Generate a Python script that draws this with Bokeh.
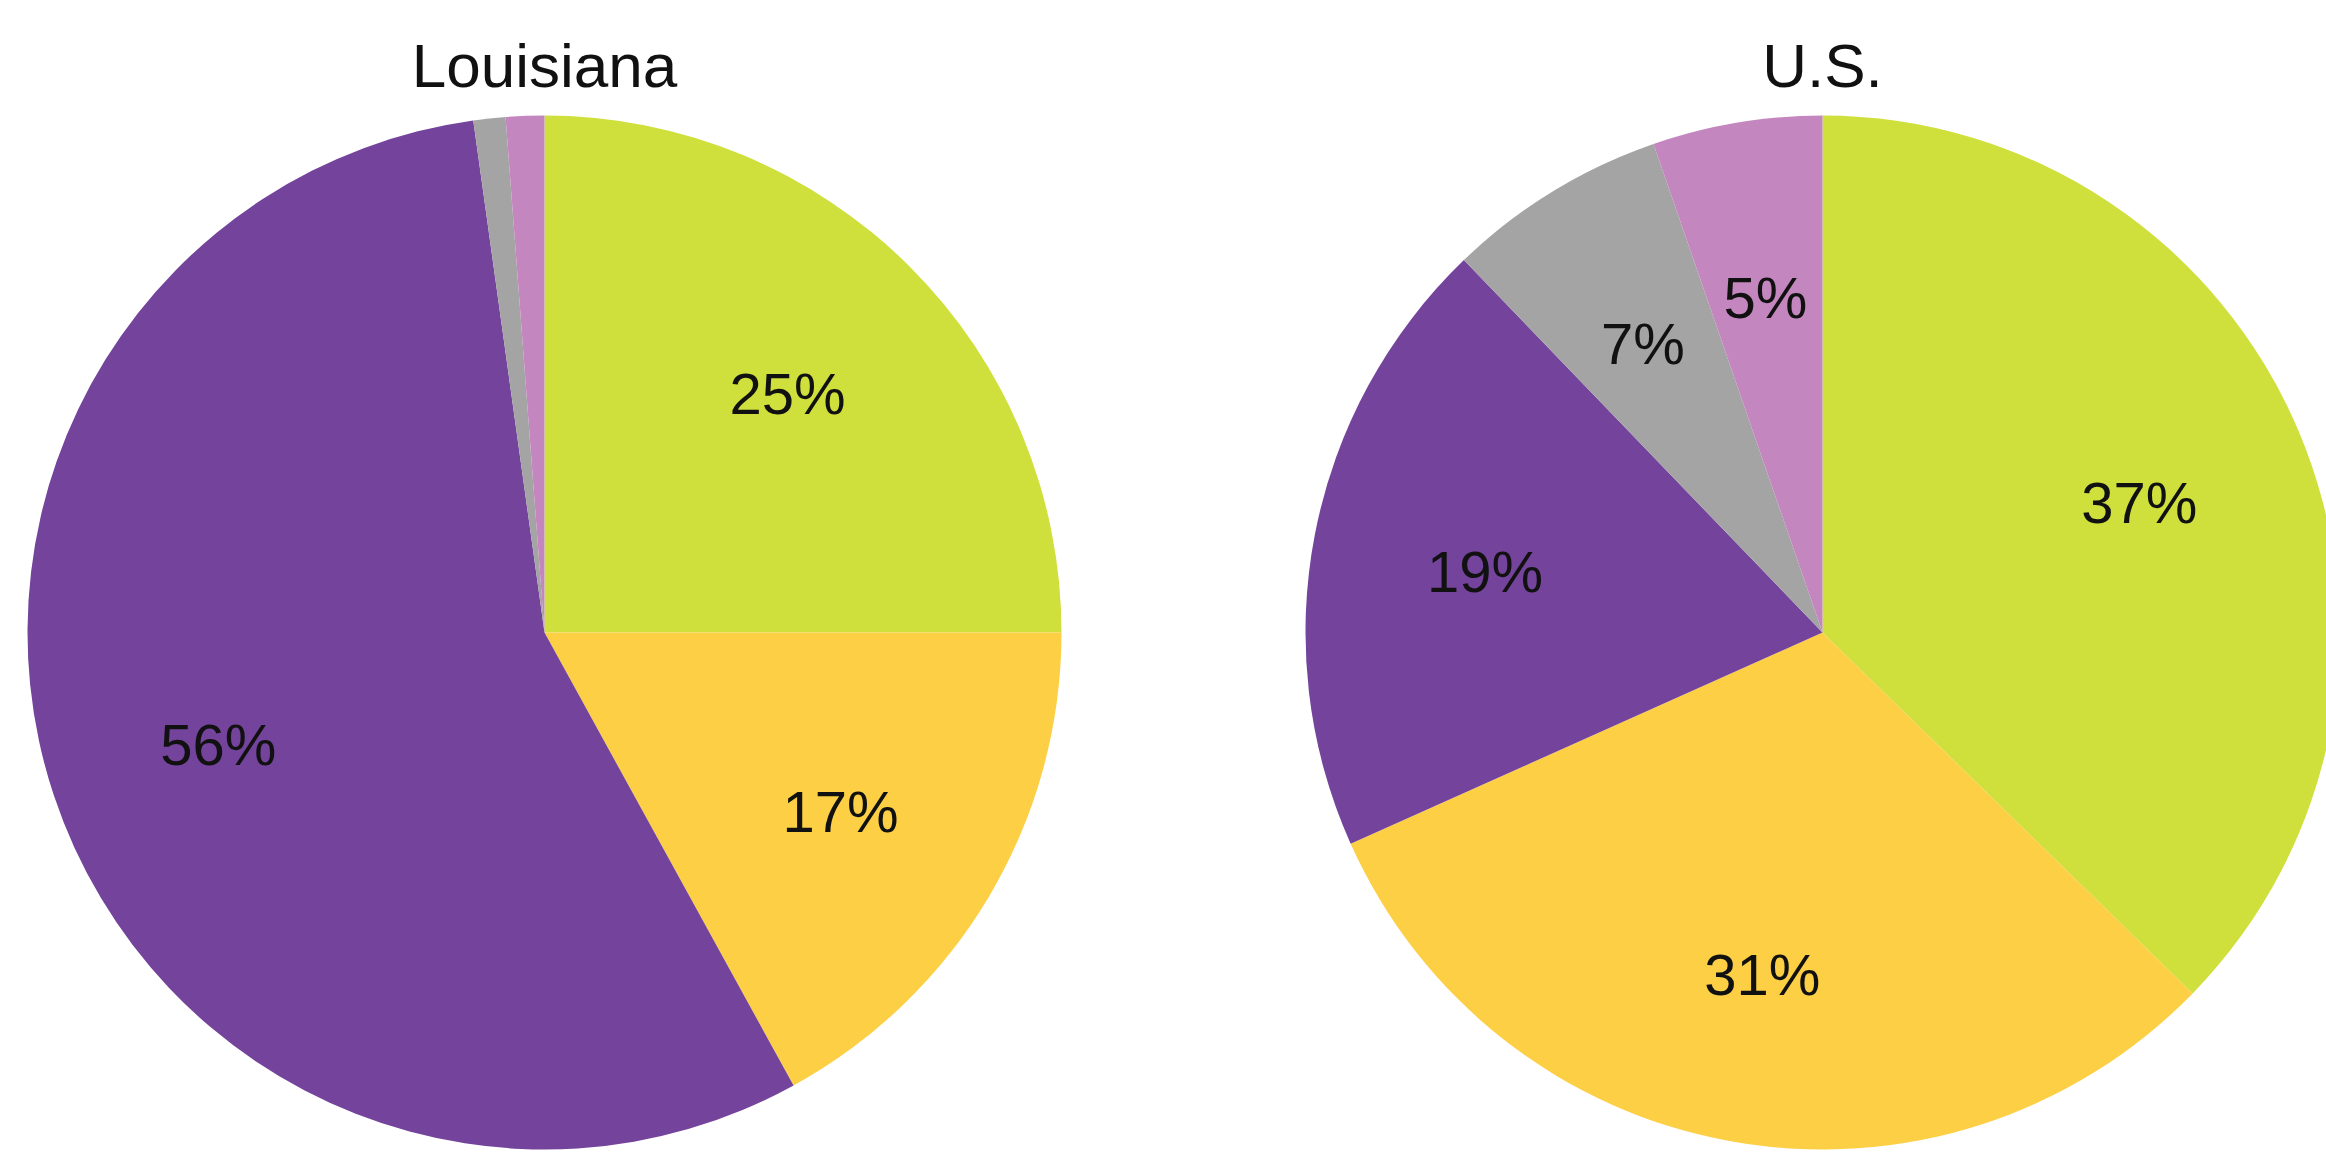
import math
from bokeh.plotting import figure
from bokeh.models import Range1d, ColumnDataSource
from bokeh.core.properties import value
from bokeh.embed import file_html
from bokeh.resources import INLINE

# ---- data ----
categories = ["A", "B", "C", "D", "E"]
colors = ["#cfdf3b", "#fccf45", "#74439b", "#a4a4a4", "#c486bf"]
la_values = [25.0, 17.0, 55.8, 1.0, 1.2]
la_labels = ["25%", "17%", "56%", "", ""]
us_values = [37.3, 31.0, 19.5, 6.9, 5.3]
us_labels = ["37%", "31%", "19%", "7%", "5%"]
titles = ["Louisiana", "U.S."]

W, H = 2326, 1154
p = figure(width=W, height=H, output_backend="svg", toolbar_location=None,
           x_range=Range1d(0, W), y_range=Range1d(1154 - H, 1154),
           min_border=0)
p.axis.visible = False
p.grid.visible = False
p.outline_line_color = None
p.background_fill_color = "white"
p.border_fill_color = "white"

R = 517
centers = [(544, 1154 - 632), (1822, 1154 - 632)]

for (cx, cy), vals, labs, title in zip(centers, [la_values, us_values],
                                       [la_labels, us_labels], titles):
    tot = sum(vals)
    starts, ends, lx, ly = [], [], [], []
    cum = 0.0
    for v in vals:
        a0 = math.pi / 2 - 2 * math.pi * cum / tot
        cum += v
        a1 = math.pi / 2 - 2 * math.pi * cum / tot
        starts.append(a1)
        ends.append(a0)
        mid = (a0 + a1) / 2
        lx.append(cx + 0.665 * R * math.cos(mid))
        ly.append(cy + 0.665 * R * math.sin(mid))
    src = ColumnDataSource(dict(x=[cx] * len(vals), y=[cy] * len(vals),
                                start=starts, end=ends, color=colors,
                                lx=lx, ly=ly, label=labs))
    p.wedge(x="x", y="y", radius=R, start_angle="start", end_angle="end",
            fill_color="color", line_color=None, source=src)
    p.text(x="lx", y="ly", text="label", source=src, y_offset=4,
           text_font=value("Liberation Sans"), text_font_size="58px",
           text_align="center", text_baseline="middle", text_color="#111111")
    p.text(x=[cx], y=[1154 - 65], text=[title],
           text_font=value("Liberation Sans"), text_font_size="62px",
           text_align="center", text_baseline="alphabetic", text_color="#111111")

open("out.html", "w").write(file_html(p, INLINE))
